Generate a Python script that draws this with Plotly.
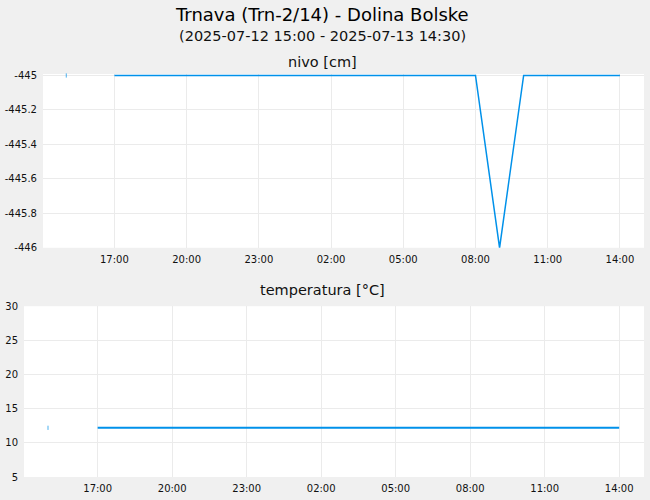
import pandas as pd
import plotly.graph_objects as go

# hourly readings, 2025-07-12 15:00 .. 2025-07-13 14:00
times = pd.date_range('2025-07-12 15:00', '2025-07-13 14:00', freq='h')

nivo = [-445, None,
        -445, -445, -445, -445, -445, -445, -445,  # 17:00 - 23:00
        -445, -445, -445, -445, -445, -445, -445,  # 00:00 - 06:00
        -445, -445, -446, -445,                    # 07:00 - 10:00
        -445, -445, -445, -445]                    # 11:00 - 14:00

temperatura = [12.2, None,
               12.2, 12.2, 12.2, 12.2, 12.2, 12.2, 12.2,
               12.2, 12.2, 12.2, 12.2, 12.2, 12.2, 12.2,
               12.2, 12.2, 12.2, 12.2,
               12.2, 12.2, 12.2, 12.2]

nivo_ticks = [-446, -445.8, -445.6, -445.4, -445.2, -445]
nivo_ticktext = ['-446', '-445.8', '-445.6', '-445.4', '-445.2', '-445']
temp_ticks = [5, 10, 15, 20, 25, 30]

title = 'Trnava (Trn-2/14) - Dolina Bolske'
subtitle = '(2025-07-12 15:00 - 2025-07-13 14:30)'

BLUE = '#0091EA'
FONT = 'DejaVu Sans'


def lone_sizes(vals):
    # a single reading between gaps gets a tiny tick so it stays visible
    out = []
    for i, v in enumerate(vals):
        prev_none = i == 0 or vals[i - 1] is None
        next_none = i == len(vals) - 1 or vals[i + 1] is None
        out.append(3 if v is not None and prev_none and next_none else 0)
    return out


fig = go.Figure()

fig.add_trace(go.Scatter(
    x=times, y=nivo, mode='lines+markers', xaxis='x', yaxis='y',
    line=dict(color=BLUE, width=1.5),
    marker=dict(symbol='line-ns', size=lone_sizes(nivo),
                line=dict(color=BLUE, width=1)),
    cliponaxis=False, connectgaps=False,
))
fig.add_trace(go.Scatter(
    x=times, y=temperatura, mode='lines+markers', xaxis='x2', yaxis='y2',
    line=dict(color=BLUE, width=2),
    marker=dict(symbol='line-ns', size=lone_sizes(temperatura),
                line=dict(color=BLUE, width=1)),
    cliponaxis=False, connectgaps=False,
))

xrange = ['2025-07-12 14:02', '2025-07-13 15:00']
xcommon = dict(
    type='date', range=xrange, tick0='2025-07-12 02:00', dtick=3 * 3600000,
    tickformat='%H:%M', showgrid=True, gridcolor='#ebebeb', gridwidth=1,
    zeroline=False, showline=False, ticks='', ticklabelstandoff=4,
    tickfont=dict(family=FONT, size=10, color='#111'),
)
ycommon = dict(
    showgrid=True, gridcolor='#ebebeb', gridwidth=1, zeroline=False,
    showline=False, ticks='', ticklabelstandoff=5,
    tickfont=dict(family=FONT, size=10, color='#111'),
)

H = 402  # plot area height in px (75 .. 477)


def py(px):
    return (477 - px) / H


# top panel: -445 sits at y=75, domain reaches 1.5px higher so the line isn't cut
top_px, bot_px = 75.0, 247.5
pad = 1.5
nivo_top = -445 + pad / (bot_px - top_px)

fig.update_layout(
    width=650, height=500,
    margin=dict(l=0, r=6, t=73.5, b=23),
    paper_bgcolor='#f0f0f0', plot_bgcolor='#ffffff',
    showlegend=False,
    font=dict(family=FONT, color='#111'),
    xaxis=dict(xcommon, domain=[43 / 644, 1], anchor='y'),
    xaxis2=dict(xcommon, domain=[24 / 644, 1], anchor='y2'),
    yaxis=dict(ycommon, domain=[(477 - bot_px) / 403.5, 1],
               range=[-446, nivo_top],
               tickvals=nivo_ticks, ticktext=nivo_ticktext, anchor='x'),
    yaxis2=dict(ycommon, domain=[0, (477 - 306) / 403.5], range=[5, 30],
                tickvals=temp_ticks, anchor='x2'),
    annotations=[
        dict(text=title, x=0.5, y=14, xref='paper', yref='paper'),
        dict(text=subtitle, x=0.5, y=35.5, xref='paper', yref='paper'),
        dict(text='nivo [cm]', x=0.5, y=61, xref='paper', yref='paper'),
        dict(text='temperatura [°C]', x=0.5, y=290, xref='paper', yref='paper'),
    ],
)

# convert pixel rows to paper coordinates and set fonts
sizes = [18, 14.5, 14.5, 14.5]
for ann, fs in zip(fig.layout.annotations, sizes):
    ann.y = (477 - ann.y) / 403.5
    ann.yanchor = 'middle'
    ann.showarrow = False
    ann.font = dict(family=FONT, size=fs, color='#000' if fs == 18 else '#111')

fig.write_html('out.html',
               config={'displayModeBar': False},
               post_script="document.body.style.margin='0';"
                           "document.body.style.background='#f0f0f0';")
